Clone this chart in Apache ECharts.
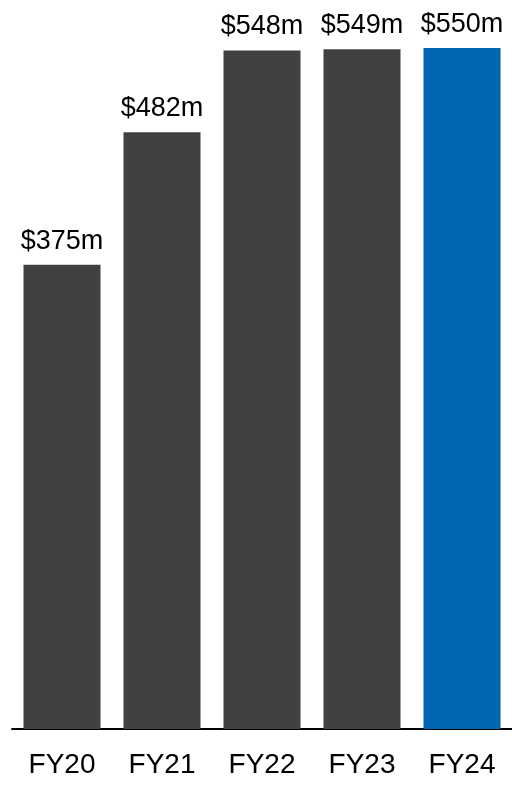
<!DOCTYPE html>
<html><head><meta charset="utf-8">
<script src="https://cdn.jsdelivr.net/npm/echarts@6/dist/echarts.min.js"></script>
<style>html,body{margin:0;padding:0;background:#fff}#c{width:512px;height:785px}</style>
</head><body><div id="c"></div>
<script>
const categories = ['FY20','FY21','FY22','FY23','FY24'];
const values = [375, 482, 548, 549, 550];
const labels = ['$375m','$482m','$548m','$549m','$550m'];
const colors = ['#404040','#404040','#404040','#404040','#0066b2'];

const chart = echarts.init(document.getElementById('c'), null, {renderer:'canvas'});
chart.setOption({
  animation:false,
  grid:{left:12,right:0,top:48,bottom:56},
  xAxis:{type:'category',data:categories,
    axisLine:{lineStyle:{color:'#000',width:2}},
    axisTick:{show:false},
    axisLabel:{color:'#000',fontFamily:'Liberation Sans, Arial',fontSize:28,margin:22}},
  yAxis:{type:'value',min:0,max:550,show:false,splitLine:{show:false}},
  series:[{type:'bar',barWidth:'77%',
    data:values.map((v,i)=>({value:v,itemStyle:{color:colors[i]}})),
    label:{show:true,position:'top',distance:10,color:'#000',fontFamily:'Liberation Sans, Arial',fontSize:27,
      formatter:p=>labels[p.dataIndex]}}]
});
</script></body></html>
